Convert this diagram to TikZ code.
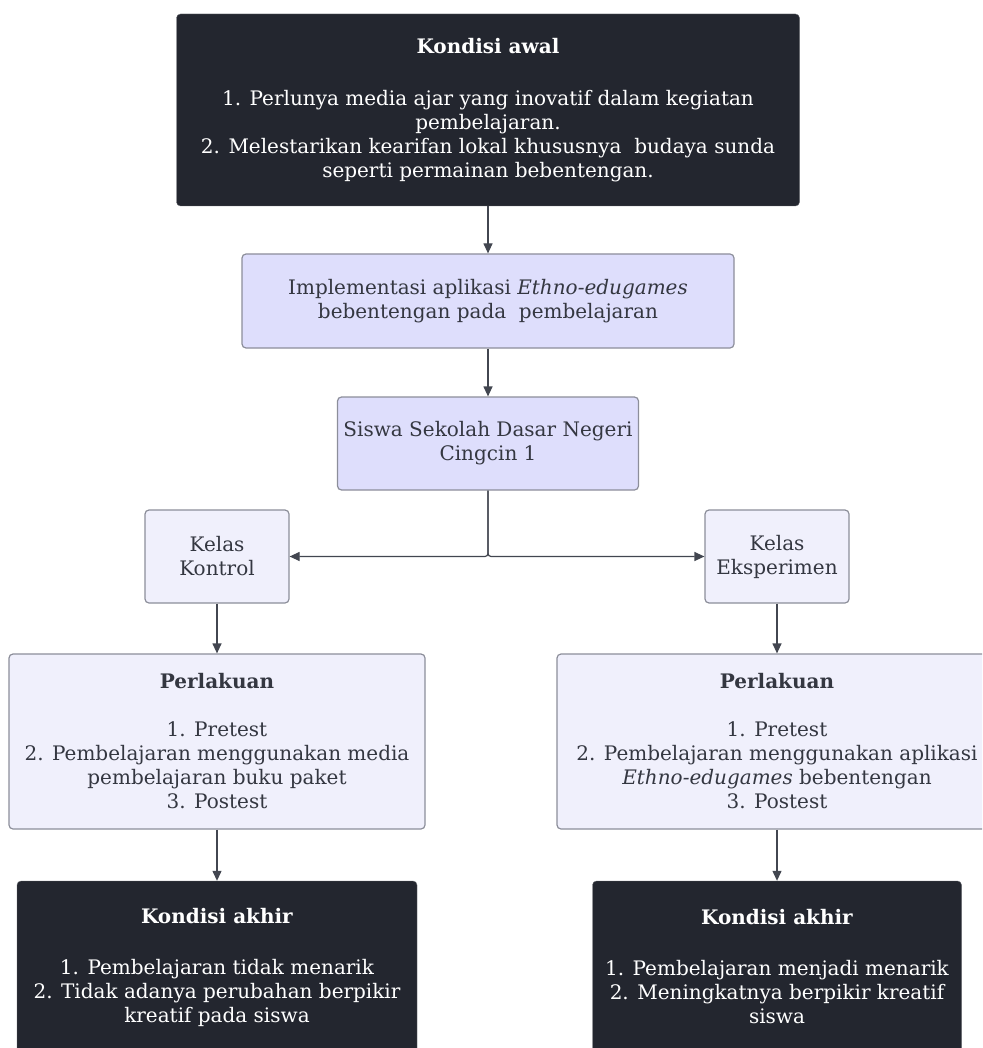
\documentclass[tikz,border=0pt]{standalone}
\usepackage{fontspec}
\setmainfont{DejaVu Serif}
\usetikzlibrary{arrows.meta, positioning}
\definecolor{inkdark}{RGB}{35,38,47}
\definecolor{lavblue}{RGB}{222,222,252}
\definecolor{paleblue}{RGB}{240,240,252}
\definecolor{edgegray}{RGB}{140,142,154}
\definecolor{txtgray}{RGB}{52,55,65}
\definecolor{arrgray}{RGB}{66,70,80}

\begin{document}
\begin{tikzpicture}[x=1pt, y=-1pt,
  box/.style={rectangle, rounded corners=4pt, align=center, inner sep=0pt, font=\fontsize{20}{24}\selectfont},
  dark/.style={box, fill=inkdark, draw=inkdark!70, text=white},
  lav/.style={box, fill=lavblue, draw=edgegray, line width=1.2pt, text=txtgray},
  pale/.style={box, fill=paleblue, draw=edgegray, line width=1.2pt, text=txtgray},
  arr/.style={-{Triangle[length=10pt, width=9pt]}, line width=1.2pt, arrgray},
]
  \clip (0,0) rectangle (982,1048);

  % central column
  \node[dark, minimum width=623pt, minimum height=192pt] (awal) at (488,110)
    {\textbf{Kondisi awal}\\[28pt]
     1. Perlunya media ajar yang inovatif dalam kegiatan\\
     pembelajaran.\\
     2. Melestarikan kearifan lokal khususnya\ \ budaya sunda\\
     seperti permainan bebentengan.};
  \node[lav, minimum width=492pt, minimum height=94pt] (impl) at (488,301)
    {Implementasi aplikasi \textit{Ethno-edugames}\\
     bebentengan pada\ \ pembelajaran};
  \node[lav, minimum width=301pt, minimum height=93pt] (siswa) at (488,443.5)
    {Siswa Sekolah Dasar Negeri\\Cingcin 1};

  % kelas
  \node[pale, minimum width=144pt, minimum height=93pt] (kontrol) at (217,556.5)
    {Kelas\\Kontrol};
  \node[pale, minimum width=144pt, minimum height=93pt] (eksp) at (777,556.5)
    {Kelas\\Eksperimen};

  % perlakuan
  \node[pale, minimum width=416pt, minimum height=175pt] (perlKon) at (217,741.5)
    {\textbf{Perlakuan}\\[24pt]
     1. Pretest\\
     2. Pembelajaran menggunakan media\\
     pembelajaran buku paket\\
     3. Postest};
  \node[pale, minimum width=440pt, minimum height=175pt] (perlEks) at (777,741.5)
    {\textbf{Perlakuan}\\[24pt]
     1. Pretest\\
     2. Pembelajaran menggunakan aplikasi\\
     \textit{Ethno-edugames} bebentengan\\
     3. Postest};

  % kondisi akhir
  \node[dark, minimum width=400pt, minimum height=172pt] (akhirKon) at (217,967)
    {\textbf{Kondisi akhir}\\[27pt]
     1. Pembelajaran tidak menarik\\
     2. Tidak adanya perubahan berpikir\\
     kreatif pada siswa};
  \node[dark, minimum width=369pt, minimum height=172pt] (akhirEks) at (777,967)
    {\textbf{Kondisi akhir}\\[27pt]
     1. Pembelajaran menjadi menarik\\
     2. Meningkatnya berpikir kreatif\\
     siswa};

  \draw[arr] (awal) -- (impl);
  \draw[arr] (impl) -- (siswa);
  \draw[arr, rounded corners=3pt] (siswa.south) |- (kontrol.east);
  \draw[arr, rounded corners=3pt] (siswa.south) |- (eksp.west);
  \draw[arr] (kontrol) -- (perlKon);
  \draw[arr] (eksp) -- (perlEks);
  \draw[arr] (perlKon) -- (akhirKon);
  \draw[arr] (perlEks) -- (akhirEks);
\end{tikzpicture}
\end{document}
